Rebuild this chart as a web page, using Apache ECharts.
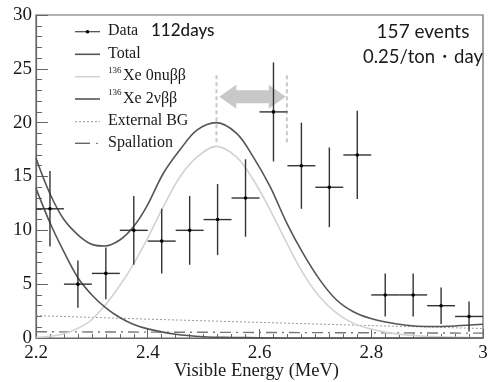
<!DOCTYPE html>
<html><head><meta charset="utf-8">
<script src="https://cdn.jsdelivr.net/npm/echarts@6/dist/echarts.min.js"></script>
<style>html,body{margin:0;padding:0;background:#fff}#c{width:490px;height:382px}</style>
</head><body><div id="c"></div>
<script>
// ---- data ----
const binCenters = [2.225, 2.275, 2.325, 2.375, 2.425, 2.475, 2.525, 2.575, 2.625, 2.675, 2.725, 2.775, 2.825, 2.875, 2.925, 2.975];
const counts     = [12, 5, 6, 10, 9, 10, 11, 13, 21, 16, 14, 17, 4, 4, 3, 2];
const countErr   = [3.5, 2.2, 2.4, 3.2, 3.0, 3.2, 3.3, 3.6, 4.6, 4.0, 3.7, 4.1, 2.0, 2.0, 1.7, 1.4];
const binHalfWidth = 0.025;

const totalX = [2.2, 2.225, 2.25, 2.279, 2.303, 2.323, 2.35, 2.374, 2.398, 2.428, 2.458, 2.488, 2.523, 2.559, 2.589, 2.619, 2.649, 2.678, 2.708, 2.738, 2.768, 2.798, 2.828, 2.863, 2.9, 2.95, 3.0];
const totalY = [16.7, 13.4, 11.0, 9.4, 8.65, 8.54, 9.1, 10.3, 12.2, 15.3, 17.5, 19.3, 20.0, 19.0, 16.8, 14.05, 10.65, 7.86, 5.4, 3.53, 2.44, 1.83, 1.46, 1.18, 1.07, 1.12, 1.27];

const zeroNuX = [2.2, 2.25, 2.291, 2.3145, 2.338, 2.368, 2.398, 2.428, 2.458, 2.488, 2.523, 2.559, 2.589, 2.619, 2.649, 2.678, 2.708, 2.738, 2.768, 2.798, 2.83, 2.87, 2.92, 3.0];
const zeroNuY = [0.05, 0.4, 1.36, 2.5, 4.0, 6.3, 9.1, 12.2, 15.0, 16.8, 17.8, 16.8, 14.7, 11.9, 8.8, 6.0, 3.8, 2.3, 1.36, 0.85, 0.5, 0.25, 0.1, 0.03];

const twoNuX = [2.2, 2.225, 2.25, 2.275, 2.3, 2.325, 2.35, 2.375, 2.4, 2.45, 2.5, 2.55, 2.6, 2.7, 3.0];
const twoNuY = [13.9, 10.7, 8.0, 5.6, 4.0, 2.8, 1.9, 1.25, 0.85, 0.35, 0.12, 0.05, 0.02, 0, 0];

const extBgX = [2.2, 2.4, 2.6, 2.8, 3.0];
const extBgY = [2.08, 1.75, 1.45, 1.15, 0.88];

const spallX = [2.2, 3.0];
const spallY = [0.58, 0.45];

const markerX = [2.523, 2.649];      // dashed vertical lines
const markerRange = [17.9, 24.4];
const arrowTips = [2.528, 2.647];
const arrowY = 22.4;

const xTicks = [2.2, 2.4, 2.6, 2.8, 3.0];
const yTicks = [0, 5, 10, 15, 20, 25, 30];

// ---- chart ----
const pairs = (xs, ys) => xs.map((x, i) => [x, ys[i]]);
const chart = echarts.init(document.getElementById('c'));
const serif = 'Liberation Serif';
const axisCol = '#666';

const legendRows = [
  {y: 31.7, text: 'Data'},
  {y: 54.3, text: 'Total'},
  {y: 77, text: 'Xe 0nuββ', sup: '136'},
  {y: 99.5, text: 'Xe 2νββ', sup: '136'},
  {y: 121.7, text: 'External BG'},
  {y: 143.5, text: 'Spallation'}
];
const gfx = [];
legendRows.forEach(r => {
  if (r.sup) {
    gfx.push({type: 'text', left: 108, top: r.y - 11, style: {text: r.sup, font: '9px "Liberation Serif"', fill: '#1a1a1a'}, z: 10});
    gfx.push({type: 'text', left: 123, top: r.y - 9, style: {text: r.text, font: '16px "Liberation Serif"', fill: '#1a1a1a'}, z: 10});
  } else {
    gfx.push({type: 'text', left: 108, top: r.y - 9, style: {text: r.text, font: '16px "Liberation Serif"', fill: '#1a1a1a'}, z: 10});
  }
});
const lx1 = 75, lx2 = 100;
gfx.push({type: 'line', shape: {x1: lx1, y1: 31.7, x2: lx2, y2: 31.7}, style: {stroke: '#444', lineWidth: 1.2}, z: 10});
gfx.push({type: 'circle', shape: {cx: 87.5, cy: 31.7, r: 1.8}, style: {fill: '#000'}, z: 10});
gfx.push({type: 'line', shape: {x1: lx1, y1: 54.3, x2: lx2, y2: 54.3}, style: {stroke: '#555', lineWidth: 1.6}, z: 10});
gfx.push({type: 'line', shape: {x1: lx1, y1: 76.7, x2: lx2, y2: 76.7}, style: {stroke: '#d2d2d2', lineWidth: 1.6}, z: 10});
gfx.push({type: 'line', shape: {x1: lx1, y1: 99, x2: lx2, y2: 99}, style: {stroke: '#555', lineWidth: 1.6}, z: 10});
gfx.push({type: 'line', shape: {x1: lx1, y1: 121.7, x2: lx2, y2: 121.7}, style: {stroke: '#999', lineWidth: 1, lineDash: [2, 2]}, z: 10});
gfx.push({type: 'line', shape: {x1: lx1, y1: 143.3, x2: 90, y2: 143.3}, style: {stroke: '#666', lineWidth: 1.4}, z: 10});
gfx.push({type: 'line', shape: {x1: 96, y1: 143.3, x2: 98, y2: 143.3}, style: {stroke: '#888', lineWidth: 1.2}, z: 10});
gfx.push({type: 'text', left: 151, top: 22, style: {text: '112days', font: '500 17px Lato', fill: '#1a1a1a'}, z: 10});
gfx.push({type: 'text', x: 423, y: 32, style: {text: '157 events', font: '19px Lato', fill: '#1a1a1a', align: 'center', verticalAlign: 'middle'}, z: 10});
gfx.push({type: 'text', x: 423, y: 57, style: {text: '0.25/ton・day', font: '18.5px Lato', fill: '#1a1a1a', align: 'center', verticalAlign: 'middle'}, z: 10});

chart.setOption({
  animation: false,
  grid: {left: 36, right: 7, top: 15, bottom: 44, outerBoundsMode: 'none', containLabel: false,
         show: true, borderColor: axisCol, borderWidth: 1.2, backgroundColor: 'transparent'},
  xAxis: {
    type: 'value', min: 2.2, max: 3.0, interval: 0.2,
    name: 'Visible Energy (MeV)', nameLocation: 'middle', nameGap: 24, nameMoveOverlap: false,
    nameTextStyle: {fontFamily: serif, fontSize: 18.5, color: '#1a1a1a', padding: [0, 0, 0, -6]},
    axisLine: {show: true, lineStyle: {color: axisCol, width: 1.2}},
    axisTick: {inside: true, length: 9, lineStyle: {color: axisCol, width: 1}},
    minorTick: {show: true, splitNumber: 8, length: 4, lineStyle: {color: axisCol, width: 1}},
    axisLabel: {fontFamily: serif, fontSize: 19, color: '#1a1a1a', margin: 6,
      formatter: v => { const t = xTicks.find(k => Math.abs(k - v) < 1e-6); return t === undefined ? '' : String(Math.round(t * 10) / 10); }},
    splitLine: {show: false}
  },
  yAxis: {
    type: 'value', min: 0, max: 30, interval: 5,
    axisLine: {show: true, lineStyle: {color: axisCol, width: 1.2}},
    axisTick: {inside: true, length: 12, lineStyle: {color: axisCol, width: 1}},
    minorTick: {show: true, splitNumber: 5, length: 6, lineStyle: {color: axisCol, width: 1}},
    axisLabel: {fontFamily: serif, fontSize: 19, color: '#1a1a1a', margin: 4,
      formatter: v => yTicks.includes(Math.round(v)) ? String(Math.round(v)) : ''},
    splitLine: {show: false}
  },
  graphic: gfx,
  series: [
    {type: 'line', data: pairs(extBgX, extBgY), symbol: 'none', lineStyle: {color: '#999', width: 1, type: [2, 2]}, z: 2},
    {type: 'line', data: pairs(spallX, spallY), symbol: 'none', lineStyle: {color: '#777', width: 1.4, type: [11, 5, 2, 5]}, z: 2},
    {type: 'line', data: pairs(zeroNuX, zeroNuY), symbol: 'none', smooth: 0.35, lineStyle: {color: '#d2d2d2', width: 1.6}, z: 3},
    {type: 'line', data: pairs(twoNuX, twoNuY), symbol: 'none', smooth: 0.35, lineStyle: {color: '#555', width: 1.6}, z: 3},
    {type: 'line', data: pairs(totalX, totalY), symbol: 'none', smooth: 0.35, lineStyle: {color: '#555', width: 1.6}, z: 4},
    {
      type: 'custom', z: 1,
      data: markerX.map(x => [x, markerRange[0], markerRange[1]]),
      renderItem(params, api) {
        const a = api.coord([api.value(0), api.value(2)]), b = api.coord([api.value(0), api.value(1)]);
        return {type: 'line', shape: {x1: a[0], y1: a[1], x2: b[0], y2: b[1]}, style: {stroke: '#c8c8c8', lineWidth: 2, lineDash: [4, 3]}};
      }
    },
    {
      type: 'custom', z: 1,
      data: [[arrowTips[0], arrowTips[1], arrowY]],
      renderItem(params, api) {
        const L = api.coord([api.value(0), api.value(2)]), R = api.coord([api.value(1), api.value(2)]);
        const y = L[1], hl = 17, hh = 12, sw = 6.5;
        const pts = [[L[0], y], [L[0] + hl, y - hh], [L[0] + hl, y - sw], [R[0] - hl, y - sw], [R[0] - hl, y - hh], [R[0], y],
                     [R[0] - hl, y + hh], [R[0] - hl, y + sw], [L[0] + hl, y + sw], [L[0] + hl, y + hh]];
        return {type: 'polygon', shape: {points: pts}, style: {fill: '#c8c8c8'}};
      }
    },
    {
      type: 'custom', z: 6,
      data: binCenters.map((x, i) => [x, counts[i], countErr[i]]),
      renderItem(params, api) {
        const x = api.value(0), y = api.value(1), e = api.value(2);
        const c = api.coord([x, y]);
        const l = api.coord([x - binHalfWidth, y]), r = api.coord([x + binHalfWidth, y]);
        const t = api.coord([x, y + e]), b = api.coord([x, y - e]);
        return {type: 'group', children: [
          {type: 'line', shape: {x1: l[0], y1: l[1], x2: r[0], y2: r[1]}, style: {stroke: '#333', lineWidth: 1.4}},
          {type: 'line', shape: {x1: t[0], y1: t[1], x2: b[0], y2: b[1]}, style: {stroke: '#333', lineWidth: 1.4}},
          {type: 'circle', shape: {cx: c[0], cy: c[1], r: 1.8}, style: {fill: '#000'}}
        ]};
      }
    }
  ]
});
</script>
</body></html>
